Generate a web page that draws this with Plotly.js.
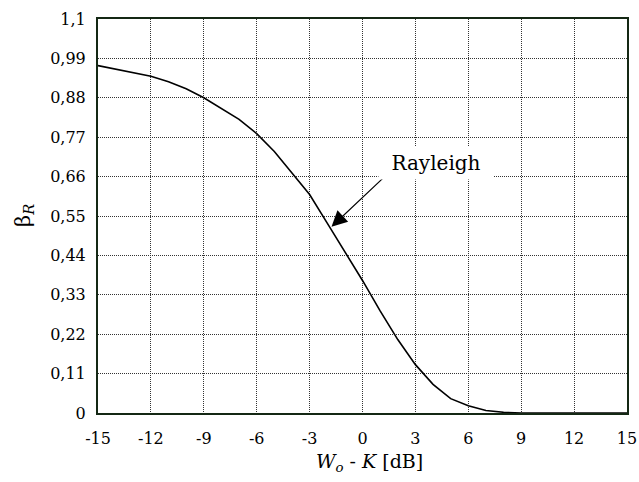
<!DOCTYPE html>
<html>
<head>
<meta charset="utf-8">
<script src="https://cdn.plot.ly/plotly-3.0.1.min.js"></script>
<style>html,body{margin:0;padding:0;background:#fff;}#chart{width:639px;height:482px;}</style>
</head>
<body>
<div id="chart"></div>
<script>
// x: W_o - K [dB]
const xValues = [-15,-14,-13,-12,-11,-10,-9,-8,-7,-6,-5,-4,-3,-2,-1,0,1,2,3,4,5,6,7,8,9,10,11,12,13,14,15];
// beta_R (Rayleigh)
const rayleigh = [0.97,0.96,0.95,0.94,0.925,0.905,0.88,0.85,0.82,0.78,0.73,0.67,0.61,0.53,0.45,0.37,0.285,0.205,0.135,0.08,0.04,0.02,0.007,0.002,0,0,0,0,0,0,0];
const xTicks = [-15,-12,-9,-6,-3,0,3,6,9,12,15];
const yTickVals = [0,0.11,0.22,0.33,0.44,0.55,0.66,0.77,0.88,0.99,1.1];
const yTickText = ["0","0,11","0,22","0,33","0,44","0,55","0,66","0,77","0,88","0,99","1,1"];
const seriesName = "Rayleigh";

const FONT = "DejaVu Serif";
const frameColor = "#142814";

const trace = {
  x: xValues, y: rayleigh, type: "scatter", mode: "lines",
  line: {color: "#000", width: 1.6, shape: "linear"},
  name: seriesName, showlegend: false, hoverinfo: "skip"
};

const layout = {
  width: 639, height: 482,
  margin: {l: 98, r: 12, t: 19, b: 69, pad: 0},
  paper_bgcolor: "#fff", plot_bgcolor: "#fff",
  font: {family: FONT, color: "#000", size: 16},
  showlegend: false,
  xaxis: {
    range: [-15, 15], tickmode: "array", tickvals: xTicks,
    ticktext: xTicks.map(String),
    showgrid: true, gridcolor: "#333", gridwidth: 1, griddash: "1px,1px",
    zeroline: false, showline: true, mirror: true, linecolor: frameColor, linewidth: 2,
    ticks: "", ticklabelstandoff: 10,
    tickfont: {family: FONT, size: 16, color: "#000"}
  },
  yaxis: {
    range: [0, 1.1], tickmode: "array", tickvals: yTickVals, ticktext: yTickText,
    showgrid: true, gridcolor: "#333", gridwidth: 1, griddash: "1px,1px",
    zeroline: false, showline: true, mirror: true, linecolor: frameColor, linewidth: 2,
    ticks: "", ticklabelstandoff: 7,
    tickfont: {family: FONT, size: 16, color: "#000"}
  },
  annotations: [
    {
      xref: "paper", yref: "paper", x: 0, y: 0.5, xshift: -74,
      text: "β<sub><i>R</i></sub>", textangle: -90, showarrow: false,
      font: {family: FONT, size: 21, color: "#000"},
      xanchor: "center", yanchor: "middle"
    },
    {
      xref: "paper", yref: "paper", x: 0.5, y: 0, xshift: 7, yshift: -35,
      text: "<i>W</i><sub><i>o</i></sub> - <i>K</i> [dB]", showarrow: false,
      font: {family: FONT, size: 19, color: "#000"},
      xanchor: "center", yanchor: "top"
    },
    {
      xref: "x", yref: "y", x: -1.76, y: 0.52,
      axref: "x", ayref: "y", ax: 1.43, ay: 0.668,
      text: "", showarrow: true, arrowhead: 2, arrowsize: 2.6, arrowwidth: 1.2,
      arrowcolor: "#000", standoff: 0, startstandoff: 0
    },
    {
      xref: "x", yref: "y", x: 4.14, y: 0.697,
      text: seriesName, showarrow: false,
      font: {family: FONT, size: 20, color: "#000"},
      bgcolor: "#fff", width: 112, height: 30, borderpad: 1,
      xanchor: "center", yanchor: "middle"
    }
  ]
};

Plotly.newPlot("chart", [trace], layout, {staticPlot: true, displayModeBar: false});
</script>
</body>
</html>
